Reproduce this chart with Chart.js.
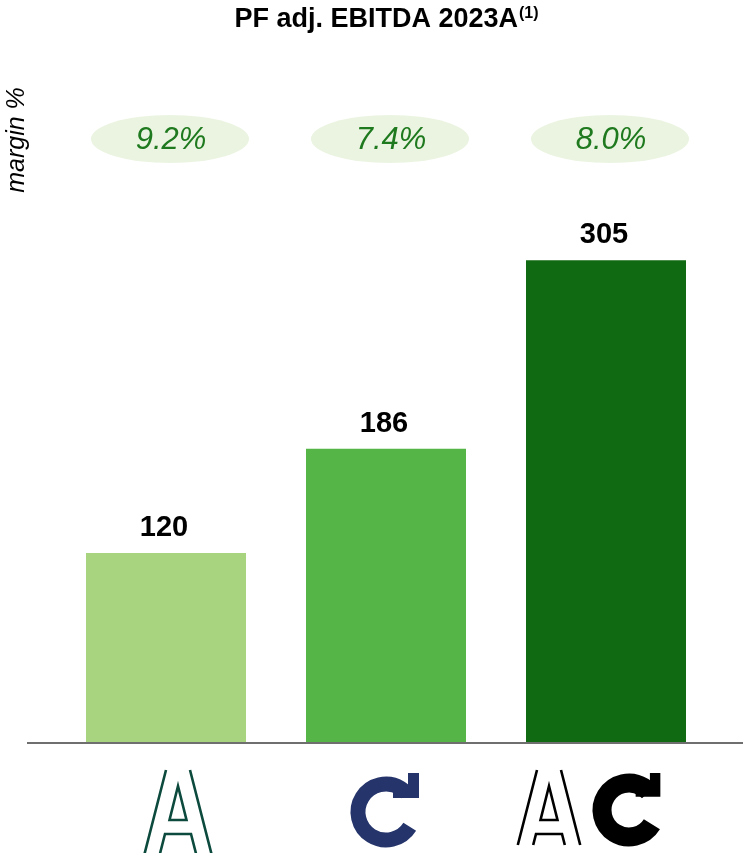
<!DOCTYPE html>
<html>
<head>
<meta charset="utf-8">
<script src="https://cdn.jsdelivr.net/npm/chart.js@4"></script>
<style>
  html, body { margin: 0; padding: 0; background: #fff; }
  #wrap { width: 743px; height: 853px; position: relative; }
</style>
</head>
<body>
<div id="wrap"><canvas id="myChart"></canvas></div>
<script>
// data
const categories = ["Company A", "Company C", "Combined"];
const ebitdaValues = [120, 186, 305];
const marginLabels = ["9.2%", "7.4%", "8.0%"];
const barColors = ["#a8d37f", "#55b546", "#106a11"];

const chartTitle = "PF adj. EBITDA 2023A";
const titleNote = "(1)";
const sideLabel = "margin %";

const FONT = "'Liberation Sans', Arial, Helvetica, sans-serif";

// draw the stylised "A" logo, top centre at (cx, top)
const drawA = (ctx, cx, top, h, color) => {
  const slope = 0.256;
  ctx.save();
  ctx.strokeStyle = color;
  ctx.lineWidth = 2.6;
  ctx.lineJoin = "miter";
  ctx.beginPath();
  // outer legs
  ctx.moveTo(cx - 12, top); ctx.lineTo(cx - 12 - slope * h, top + h);
  ctx.moveTo(cx + 12, top); ctx.lineTo(cx + 12 + slope * h, top + h);
  ctx.stroke();
  // inner triangle
  ctx.beginPath();
  ctx.moveTo(cx, top + 16);
  ctx.lineTo(cx + 8.5, top + 50);
  ctx.lineTo(cx - 8.5, top + 50);
  ctx.closePath();
  ctx.stroke();
  // crossbar + lower legs
  ctx.beginPath();
  ctx.moveTo(cx - 13 - slope * (h - 64), top + h);
  ctx.lineTo(cx - 13, top + 64);
  ctx.lineTo(cx + 13, top + 64);
  ctx.lineTo(cx + 13 + slope * (h - 64), top + h);
  ctx.stroke();
  ctx.restore();
};

// draw the circular arrow logo centred at (cx, cy)
const drawC = (ctx, cx, cy, s, r, thick, color) => {
  ctx.save();
  ctx.strokeStyle = color;
  ctx.fillStyle = color;
  ctx.lineWidth = thick;
  ctx.lineCap = "butt";
  ctx.beginPath();
  ctx.arc(cx, cy, r, 32 * Math.PI / 180, 318 * Math.PI / 180);
  ctx.stroke();
  // arrow head (L shape)
  ctx.beginPath();
  ctx.moveTo(cx + 22 * s, cy - 39 * s);
  ctx.lineTo(cx + 33 * s, cy - 39 * s);
  ctx.lineTo(cx + 33 * s, cy - 14 * s);
  ctx.lineTo(cx + 7 * s, cy - 14 * s);
  ctx.lineTo(cx + 7 * s, cy - 22 * s);
  ctx.lineTo(cx + 22 * s, cy - 22 * s);
  ctx.closePath();
  ctx.fill();
  ctx.restore();
};

const annotationsPlugin = {
  id: "annotations",
  afterDatasetsDraw(chart) {
    const ctx = chart.ctx;
    const area = chart.chartArea;
    const bars = chart.getDatasetMeta(0).data;

    ctx.save();

    // baseline
    ctx.strokeStyle = "#6f6f6f";
    ctx.lineWidth = 2;
    ctx.beginPath();
    ctx.moveTo(27, area.bottom);
    ctx.lineTo(743, area.bottom);
    ctx.stroke();

    // title with superscript note
    ctx.fillStyle = "#000";
    ctx.textBaseline = "alphabetic";
    ctx.font = "bold 27px " + FONT;
    const tw = ctx.measureText(chartTitle).width;
    ctx.font = "bold 16px " + FONT;
    const nw = ctx.measureText(titleNote).width;
    const startX = 386 - (tw + nw) / 2;
    ctx.font = "bold 27px " + FONT;
    ctx.textAlign = "left";
    ctx.fillText(chartTitle, startX, 27);
    ctx.font = "bold 16px " + FONT;
    ctx.fillText(titleNote, startX + tw + 1, 18);

    // side label
    ctx.save();
    ctx.translate(24, 140);
    ctx.rotate(-Math.PI / 2);
    ctx.font = "italic 25px " + FONT;
    ctx.textAlign = "center";
    ctx.fillText(sideLabel, 0, 0);
    ctx.restore();

    bars.forEach((bar, i) => {
      // margin ellipse
      ctx.fillStyle = "#ebf4e1";
      ctx.beginPath();
      ctx.ellipse(bar.x + 4, 139, 79, 24, 0, 0, Math.PI * 2);
      ctx.fill();
      ctx.fillStyle = "#1f7a1f";
      ctx.font = "italic 31px " + FONT;
      ctx.textAlign = "center";
      ctx.textBaseline = "middle";
      ctx.fillText(marginLabels[i], bar.x + 5, 140);

      // value label
      ctx.fillStyle = "#000";
      ctx.font = "bold 29px " + FONT;
      ctx.textBaseline = "alphabetic";
      ctx.fillText(ebitdaValues[i], bar.x - 2, bar.y - 17);
    });

    // logos under the bars
    drawA(ctx, bars[0].x + 12, 770, 90, "#0d4a3e");
    drawC(ctx, bars[1].x, 812, 1, 28, 15, "#25346b");
    drawA(ctx, bars[2].x - 57, 770, 75, "#000");
    drawC(ctx, bars[2].x + 23, 810, 0.95, 27, 19, "#000");

    ctx.restore();
  }
};

const ctx = document.getElementById("myChart");

new Chart(ctx, {
  type: "bar",
  data: {
    labels: categories,
    datasets: [{
      label: "PF adj. EBITDA",
      data: ebitdaValues,
      backgroundColor: barColors,
      borderWidth: 0,
      barPercentage: 160 / 220,
      categoryPercentage: 1
    }]
  },
  options: {
    responsive: true,
    maintainAspectRatio: false,
    animation: false,
    layout: {
      padding: { left: 56, right: 27, top: 110, bottom: 110 }
    },
    plugins: {
      legend: { display: false },
      title: { display: false },
      tooltip: { enabled: false }
    },
    scales: {
      x: { display: false },
      y: { display: false, min: 0, max: 400 }
    }
  },
  plugins: [annotationsPlugin]
});
</script>
</body>
</html>
